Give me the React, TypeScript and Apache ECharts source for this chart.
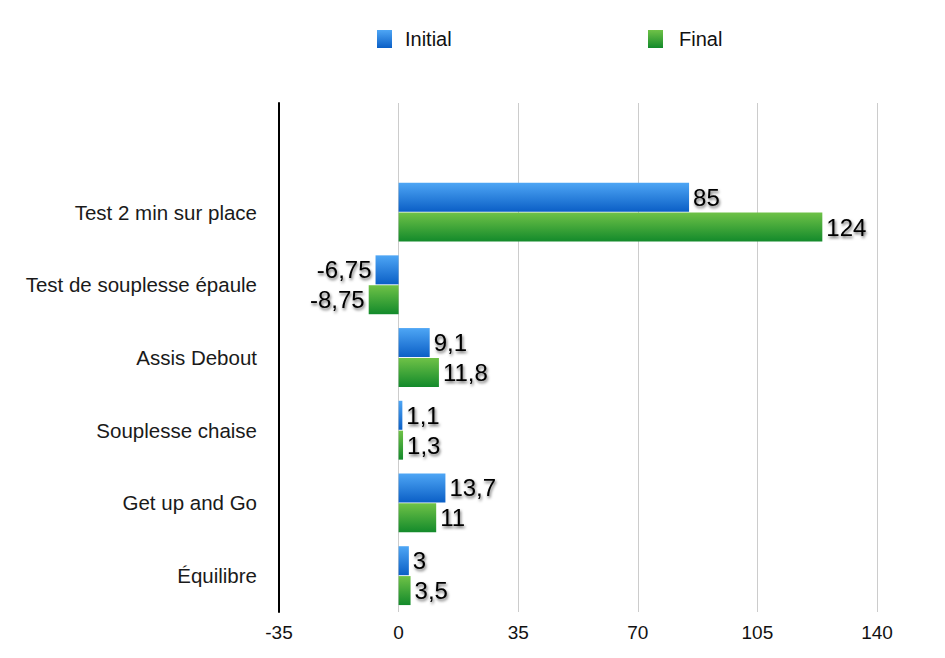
import React, { useEffect, useRef } from "react";
import * as echarts from "echarts";

const categories = [
  "Test 2 min sur place",
  "Test de souplesse épaule",
  "Assis Debout",
  "Souplesse chaise",
  "Get up and Go",
  "Équilibre",
];
const initialValues = [85, -6.75, 9.1, 1.1, 13.7, 3];
const finalValues = [124, -8.75, 11.8, 1.3, 11, 3.5];
const seriesNames = ["Initial", "Final"];

const FONT = "'Liberation Sans', Arial, Helvetica, sans-serif";

const blueGrad = () =>
  new echarts.graphic.LinearGradient(0, 0, 0, 1, [
    { offset: 0, color: "#4ea6f5" },
    { offset: 1, color: "#0b5fc6" },
  ]);
const greenGrad = () =>
  new echarts.graphic.LinearGradient(0, 0, 0, 1, [
    { offset: 0, color: "#6fc247" },
    { offset: 1, color: "#138a2b" },
  ]);

const fmt = (v: number) => String(v).replace(".", ",");

function buildData(values: number[]) {
  const items: any[] = [{ value: "-" }];
  values.forEach((v) => {
    items.push({
      value: v,
      label: { position: v < 0 ? "left" : "right" },
    });
  });
  return items;
}

const labelStyle = {
  show: true,
  fontFamily: FONT,
  fontSize: 24,
  color: "#000",
  distance: 4,
  textShadowColor: "rgba(0,0,0,0.6)",
  textShadowBlur: 3,
  textShadowOffsetX: 1,
  textShadowOffsetY: 2,
  formatter: (p: any) => fmt(p.value),
};

const legendText = { fontFamily: FONT, fontSize: 20, color: "#111" };

export default function App() {
  const ref = useRef<HTMLDivElement>(null);
  useEffect(() => {
    if (!ref.current) return;
    const chart = echarts.init(ref.current, undefined, { renderer: "svg" });
    chart.setOption({
      animation: false,
      backgroundColor: "#fff",
      legend: [
        {
          data: [seriesNames[0]],
          icon: "rect",
          left: 377,
          top: 29,
          padding: 0,
          itemWidth: 15,
          itemHeight: 18,
          textStyle: { ...legendText, padding: [0, 0, 0, 8] },
        },
        {
          data: [seriesNames[1]],
          icon: "rect",
          left: 648,
          top: 29,
          padding: 0,
          itemWidth: 15,
          itemHeight: 18,
          textStyle: { ...legendText, padding: [0, 0, 0, 11] },
        },
      ],
      grid: { left: 279, right: 68, top: 103, bottom: 46, containLabel: false },
      xAxis: {
        type: "value",
        min: -35,
        max: 140,
        interval: 35,
        axisLine: { show: false },
        axisTick: { show: false },
        splitLine: { show: true, lineStyle: { color: "#cccccc", width: 1 } },
        axisLabel: { fontFamily: FONT, fontSize: 19, color: "#111", margin: 11 },
      },
      yAxis: {
        type: "category",
        inverse: true,
        data: ["", ...categories],
        axisLine: { show: true, onZero: false, lineStyle: { color: "#000", width: 2 } },
        axisTick: { show: false },
        axisLabel: { fontFamily: FONT, fontSize: 20.5, color: "#1a1a1a", margin: 22 },
      },
      series: [
        {
          name: seriesNames[0],
          type: "bar",
          barWidth: 29,
          barGap: "3%",
          itemStyle: { color: blueGrad() },
          label: labelStyle,
          data: buildData(initialValues),
        },
        {
          name: seriesNames[1],
          type: "bar",
          barWidth: 29,
          barGap: "3%",
          itemStyle: { color: greenGrad() },
          label: labelStyle,
          data: buildData(finalValues),
        },
      ],
    });
    return () => chart.dispose();
  }, []);
  return (
    <div
      ref={ref}
      style={{ position: "fixed", left: 0, top: 0, width: 945, height: 658, background: "#fff" }}
    />
  );
}
